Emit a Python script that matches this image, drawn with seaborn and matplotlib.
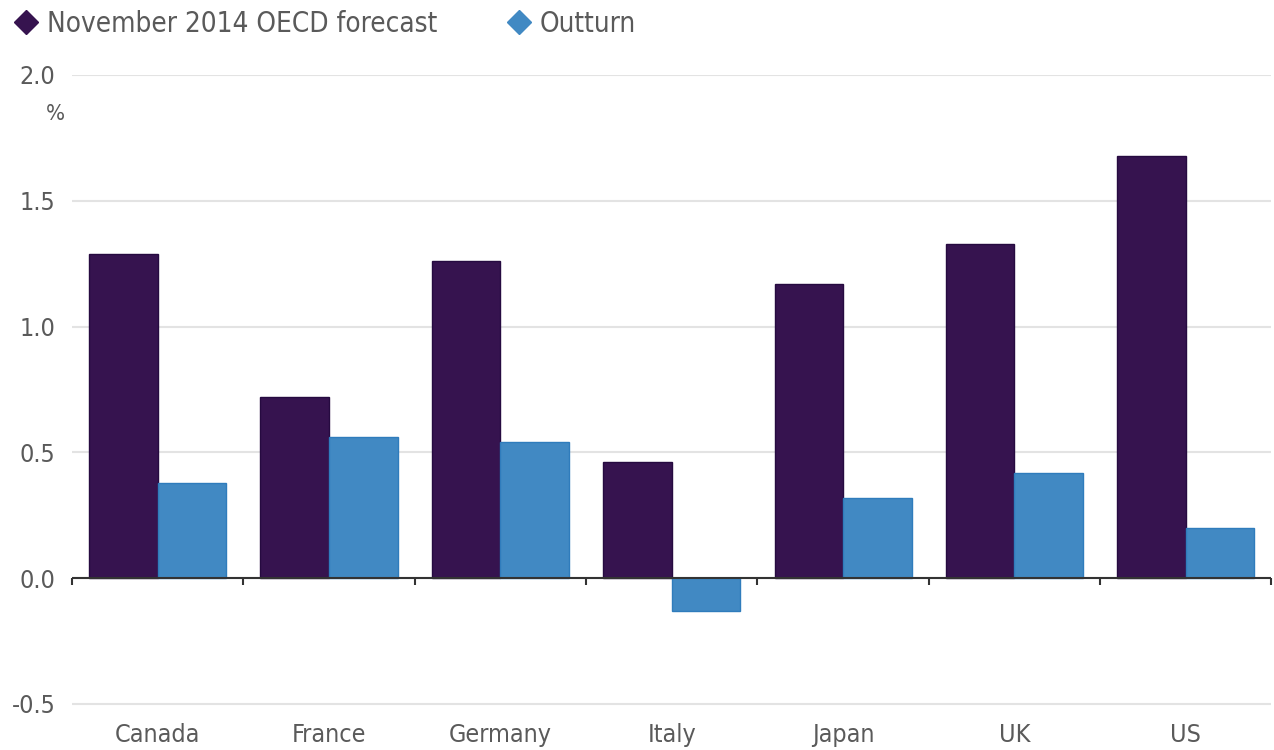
import pandas as pd
import seaborn as sns
import matplotlib.pyplot as plt
from matplotlib.lines import Line2D
from matplotlib.ticker import MultipleLocator

# Data
countries = ['Canada', 'France', 'Germany', 'Italy', 'Japan', 'UK', 'US']
forecast = [1.29, 0.72, 1.26, 0.46, 1.17, 1.33, 1.68]
outturn = [0.38, 0.56, 0.54, -0.13, 0.32, 0.42, 0.20]
series = ['November 2014 OECD forecast', 'Outturn']
colors = ['#36134f', '#4189c3']
edges = ['#260a40', '#2f7cbc']

df = pd.DataFrame({
    'country': countries * 2,
    'value': forecast + outturn,
    'series': [series[0]] * len(countries) + [series[1]] * len(countries),
})

sns.set_theme(style='white')
plt.rcParams['font.family'] = ['DejaVu Sans']
plt.rcParams['font.stretch'] = 'condensed'
text_col = '#5a5a5a'

fig = plt.figure(figsize=(12.74, 7.5), dpi=100)
ax = fig.add_axes([0.0565, 0.058, 0.9415, 0.842])

sns.barplot(data=df, x='country', y='value', hue='series', palette=colors,
            width=0.8, ax=ax, legend=False, saturation=1, linewidth=0)

# thin darker outline per series
n = len(countries)
for i, bar in enumerate(ax.patches[:2 * n]):
    bar.set_edgecolor(edges[i // n])
    bar.set_linewidth(1.0)

ax.set_ylim(-0.51, 2.0)
ax.set_xlim(-0.5, n - 0.5)
ax.yaxis.set_major_locator(MultipleLocator(0.5))
ax.yaxis.set_major_formatter(plt.FuncFormatter(lambda v, p: f'{v:.1f}'))
ax.grid(axis='y', color='#e3e3e3', linewidth=1.5, zorder=0)
ax.set_axisbelow(True)
for s in ax.spines.values():
    s.set_visible(False)
ax.axhline(0, color='#333333', linewidth=1.5, zorder=3)

ax.tick_params(axis='y', length=0, pad=12, labelsize=18, labelcolor=text_col)
ax.tick_params(axis='x', which='major', length=0, pad=12, labelsize=18,
               labelcolor=text_col)
ax.set_xlabel('')
ax.set_ylabel('')

# small tick marks between categories, hanging off the zero line
for b in range(n + 1):
    ax.plot([b - 0.5, b - 0.5], [0, -0.028], color='#333333', lw=1.5,
            zorder=3, clip_on=False, solid_capstyle='butt')

fig.text(0.036, 0.848, '%', fontsize=16, color=text_col, ha='left', va='center')

handles = [Line2D([], [], marker='D', linestyle='none', markersize=12,
                  markerfacecolor=c, markeredgecolor=c) for c in colors]
fig.legend(handles, series, loc='upper left', bbox_to_anchor=(-0.021, 1.02),
           ncol=2, frameon=False, fontsize=20, handletextpad=-0.25,
           columnspacing=1.95, labelcolor=text_col)

fig.savefig('out.png', dpi=100)
